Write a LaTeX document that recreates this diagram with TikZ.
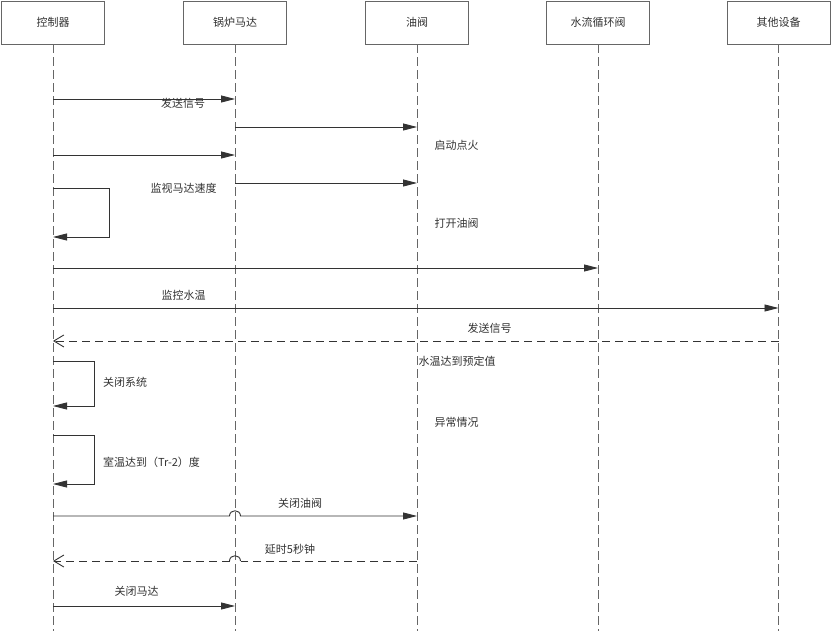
\documentclass[tikz,border=0pt]{standalone}
\usepackage{fontspec}
\setmainfont{Noto Sans CJK SC}
\usetikzlibrary{arrows.meta}
\definecolor{txt}{HTML}{333333}
\definecolor{ln}{HTML}{333333}
\definecolor{life}{HTML}{666666}
\tikzset{
  actor/.style={draw=life, line width=0.9pt, minimum width=103pt, minimum height=43pt, inner sep=0pt, text=txt, font=\fontsize{11}{13}\selectfont},
  lifeline/.style={draw=life, line width=0.9pt, dash pattern=on 9pt off 4pt},
  msg/.style={draw=ln, line width=0.9pt, -{Triangle[length=14pt,width=7pt]}},
  ret/.style={draw=ln, line width=0.9pt, dash pattern=on 8pt off 5pt, -{Straight Barb[length=10pt,width=12pt,line width=0.9pt]}},
  retline/.style={draw=ln, line width=0.9pt, dash pattern=on 8pt off 5pt},
  hop/.style={draw=ln, line width=0.9pt},
  lbl/.style={text=txt, inner sep=0pt, font=\fontsize{11}{13}\selectfont},
}
\begin{document}
\begin{tikzpicture}[x=1pt,y=-1pt]
\useasboundingbox[fill=white] (0,0) rectangle (831,631);
% actors
\node[actor] (a1) at (53,22.5) {控制器};
\node[actor] (a2) at (235,22.5) {锅炉马达};
\node[actor] (a3) at (417,22.5) {油阀};
\node[actor] (a4) at (598,22.5) {水流循环阀};
\node[actor] (a5) at (778.5,22.5) {其他设备};
% lifeline ends
\coordinate (e1) at (53,631);
\coordinate (e2) at (235,631);
\coordinate (e3) at (417,631);
\coordinate (e4) at (598,631);
\coordinate (e5) at (778.5,631);
\draw[lifeline] (a1.south) -- (e1);
\draw[lifeline] (a2.south) -- (e2);
\draw[lifeline] (a3.south) -- (e3);
\draw[lifeline] (a4.south) -- (e4);
\draw[lifeline] (a5.south) -- (e5);
% message coordinates
\coordinate (m1s) at (53,99);  \coordinate (m1e) at (235,99);
\coordinate (m2s) at (235,127); \coordinate (m2e) at (417,127);
\coordinate (m3s) at (53,155);  \coordinate (m3e) at (235,155);
\coordinate (m4s) at (235,183); \coordinate (m4e) at (417,183);
\coordinate (s1a) at (53,188);  \coordinate (s1b) at (109,188);
\coordinate (s1c) at (109,237); \coordinate (s1d) at (53,237);
\coordinate (m5s) at (53,268);  \coordinate (m5e) at (598,268);
\coordinate (m6s) at (53,308);  \coordinate (m6e) at (778.5,308);
\coordinate (r1s) at (778.5,341); \coordinate (r1e) at (53,341);
\coordinate (s2a) at (53,361);  \coordinate (s2b) at (94,361);
\coordinate (s2c) at (94,406);  \coordinate (s2d) at (53,406);
\coordinate (s3a) at (53,435);  \coordinate (s3b) at (94,435);
\coordinate (s3c) at (94,484);  \coordinate (s3d) at (53,484);
\coordinate (m7s) at (53,516);  \coordinate (m7j) at (235,516); \coordinate (m7e) at (417,516);
\coordinate (r2s) at (417,561); \coordinate (r2e) at (53,561);
\coordinate (r2a) at (240.5,561); \coordinate (r2b) at (229.5,561);
\coordinate (m8s) at (53,606);  \coordinate (m8e) at (235,606);
% messages
\draw[msg] (m1s) -- (m1e);
\draw[msg] (m2s) -- (m2e);
\draw[msg] (m3s) -- (m3e);
\draw[msg] (m4s) -- (m4e);
\draw[msg] (s1a) -- (s1b) -- (s1c) -- (s1d);
\draw[msg] (m5s) -- (m5e);
\draw[msg] (m6s) -- (m6e);
\draw[ret] (r1s) -- (r1e);
\draw[msg] (s2a) -- (s2b) -- (s2c) -- (s2d);
\draw[msg] (s3a) -- (s3b) -- (s3c) -- (s3d);
\draw[msg] (m7s) -- ([xshift=-5.5pt]m7j) .. controls +(0,-7) and +(0,-7) .. ([xshift=5.5pt]m7j) -- (m7e);
\draw[retline] (r2s) -- (r2a);
\draw[hop] (r2a) .. controls +(0,-7) and +(0,-7) .. (r2b);
\draw[ret] (r2b) -- (r2e);
\draw[msg] (m8s) -- (m8e);
% labels
\node[lbl] (l1) at (183,103) {发送信号};
\node[lbl] (l2) at (456.5,145) {启动点火};
\node[lbl] (l3) at (183.5,188) {监视马达速度};
\node[lbl] (l4) at (456.5,223) {打开油阀};
\node[lbl] (l5) at (183.5,295) {监控水温};
\node[lbl] (l6) at (489.5,328) {发送信号};
\node[lbl] (l7) at (457,361) {水温达到预定值};
\node[lbl] (l8) at (125,382) {关闭系统};
\node[lbl] (l9) at (456.5,422) {异常情况};
\node[lbl] (l10) at (151.5,462) {室温达到（Tr-2）度};
\node[lbl] (l11) at (300,503) {关闭油阀};
\node[lbl] (l12) at (290,549) {延时5秒钟};
\node[lbl] (l13) at (136.5,591) {关闭马达};
\end{tikzpicture}
\end{document}
